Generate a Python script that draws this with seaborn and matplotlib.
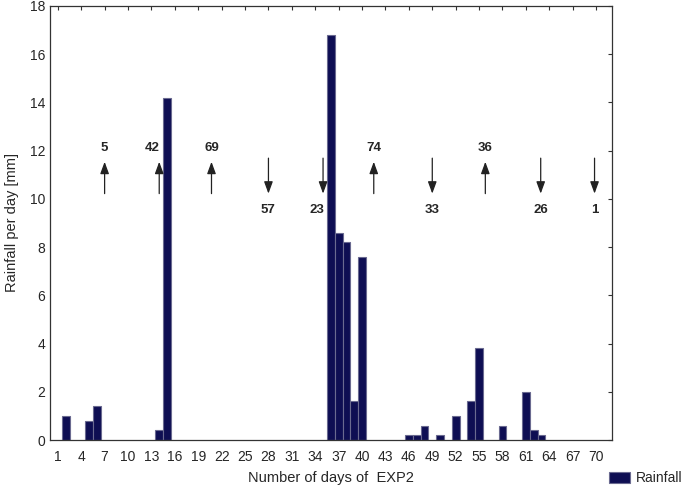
import matplotlib
matplotlib.use('Agg')
import matplotlib.pyplot as plt
import seaborn as sns

# daily rainfall (only days with rain)
days = [2, 5, 6, 14, 15, 36, 37, 38, 39, 40, 46, 47, 48, 50, 52, 54, 55, 58, 61, 62, 63]
rain = [1.0, 0.8, 1.4, 0.4, 14.2, 16.8, 8.6, 8.2, 1.6, 7.6, 0.2, 0.2, 0.6, 0.2, 1.0, 1.6, 3.8, 0.6, 2.0, 0.4, 0.2]

# arrow annotations: day, label, direction
arrow_days = [7, 14, 20.7, 28, 35, 41.5, 49, 55.8, 62.9, 69.8]
arrow_labels = ['5', '42', '69', '57', '23', '74', '33', '36', '26', '1']
arrow_up = [True, True, True, False, False, True, False, True, False, False]

xticks = list(range(1, 71, 3))

sns.set_style('white')
plt.rcParams['font.family'] = ['Liberation Sans', 'DejaVu Sans']

fig = plt.figure(figsize=(6.85, 4.87), dpi=100)
ax = fig.add_axes([0.073, 0.0965, 0.82, 0.8915])

sns.barplot(x=days, y=rain, native_scale=True, width=1.0, color='#03035e',
            edgecolor='#6a6a90', linewidth=0.8, label='Rainfall', ax=ax)

arrow_style = dict(arrowstyle='-|>,head_length=0.6,head_width=0.22', color='#222222',
                   lw=0.9, mutation_scale=12)
for d, lab, up in zip(arrow_days, arrow_labels, arrow_up):
    if up:
        ax.annotate('', xy=(d, 11.65), xytext=(d, 10.1), arrowprops=arrow_style)
        dx = -0.9 if lab == '42' else 0
        ax.text(d + dx, 12.1, lab, ha='center', va='center', fontsize=9.5, fontweight='bold')
    else:
        ax.annotate('', xy=(d, 10.1), xytext=(d, 11.8), arrowprops=arrow_style)
        dx = -0.8 if lab == '23' else 0
        ax.text(d + dx, 9.55, lab, ha='center', va='center', fontsize=9.5, fontweight='bold')

ax.set_xlim(0, 72)
ax.set_ylim(0, 18)
ax.set_xticks(xticks)
ax.set_xticklabels([str(t) for t in xticks])
ax.set_yticks(range(0, 19, 2))
ax.tick_params(direction='in', top=True, right=True, length=3, labelsize=10, color='#333333')
ax.tick_params(axis='x', pad=7)
for s in ax.spines.values():
    s.set_color('#333333')
    s.set_linewidth(0.9)

ax.set_xlabel('Number of days of  EXP2', fontsize=10.5, labelpad=5)
ax.set_ylabel('Rainfall per day [mm]', fontsize=10.5, labelpad=8)

if ax.legend_:
    ax.legend_.remove()
handles, labels = ax.get_legend_handles_labels()
fig.legend(handles[:1], labels[:1], loc='center right', bbox_to_anchor=(1.008, 0.018),
           frameon=False, fontsize=10, handlelength=1.5, handleheight=0.9, handletextpad=0.4,
           borderpad=0.1)

fig.savefig('out.png', dpi=100)
